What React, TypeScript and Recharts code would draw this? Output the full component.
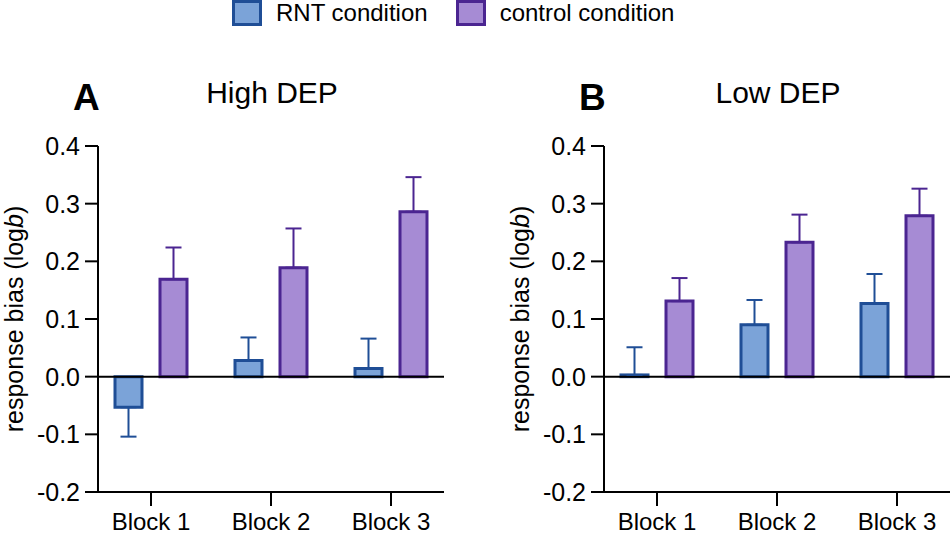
import React from "react";
import {
  BarChart,
  Bar,
  XAxis,
  YAxis,
  ErrorBar,
  ReferenceLine,
} from "recharts";

const blocks = ["Block 1", "Block 2", "Block 3"];
const yTicks = [-0.2, -0.1, 0, 0.1, 0.2, 0.3, 0.4];

// High DEP (panel A)
const highRnt = [-0.053, 0.028, 0.014];
const highRntSem = [0.051, 0.04, 0.052];
const highCtrl = [0.169, 0.189, 0.286];
const highCtrlSem = [0.055, 0.068, 0.06];

// Low DEP (panel B)
const lowRnt = [0.003, 0.09, 0.127];
const lowRntSem = [0.048, 0.043, 0.051];
const lowCtrl = [0.131, 0.233, 0.279];
const lowCtrlSem = [0.04, 0.048, 0.047];

const RNT_FILL = "#7ba3d8";
const RNT_STROKE = "#1f4e96";
const CTRL_FILL = "#a68bd4";
const CTRL_STROKE = "#4b2591";
const FONT = "'Liberation Sans', Arial, sans-serif";

if (typeof document !== "undefined") document.body.style.margin = "0";

// one-sided error bars, pointing away from zero
const oneSided = (v: number, e: number) => (v < 0 ? [e, 0] : [0, e]);

const buildRows = (rnt: number[], rntSem: number[], ctrl: number[], ctrlSem: number[]) =>
  blocks.map((block, i) => ({
    block,
    rnt: rnt[i],
    rntErr: oneSided(rnt[i], rntSem[i]),
    ctrl: ctrl[i],
    ctrlErr: oneSided(ctrl[i], ctrlSem[i]),
  }));

const Panel = ({
  letter,
  title,
  rows,
  left,
}: {
  letter: string;
  title: string;
  rows: ReturnType<typeof buildRows>;
  left: number;
}) => {
  const tickStyle = { fill: "#000", fontSize: 25, fontFamily: FONT };
  return (
    <div style={{ position: "absolute", left, top: 0, width: 475, height: 536 }}>
      <BarChart
        width={475}
        height={536}
        data={rows}
        margin={{ top: 146, right: 31, bottom: 0, left: 38 }}
        barSize={27}
        barGap={18}
      >
        <XAxis
          dataKey="block"
          height={44}
          padding={{ left: -7, right: -7 }}
          stroke="#000"
          strokeWidth={2}
          tickSize={14}
          tickMargin={7}
          tick={{ ...tickStyle, fontSize: 24 }}
          tickLine={{ stroke: "#000", strokeWidth: 2 }}
        />
        <YAxis
          width={60}
          domain={[-0.2, 0.4]}
          ticks={yTicks}
          allowDataOverflow
          stroke="#000"
          strokeWidth={2}
          tickSize={13}
          tickMargin={5}
          tick={tickStyle}
          tickLine={{ stroke: "#000", strokeWidth: 2 }}
          tickFormatter={(v: number) => v.toFixed(1)}
        />
        <ReferenceLine y={0} stroke="#000" strokeWidth={2} />
        <Bar
          dataKey="rnt"
          fill={RNT_FILL}
          stroke={RNT_STROKE}
          strokeWidth={3}
          isAnimationActive={false}
        >
          <ErrorBar dataKey="rntErr" width={8} stroke={RNT_STROKE} strokeWidth={2} />
        </Bar>
        <Bar
          dataKey="ctrl"
          fill={CTRL_FILL}
          stroke={CTRL_STROKE}
          strokeWidth={3}
          isAnimationActive={false}
        >
          <ErrorBar dataKey="ctrlErr" width={8} stroke={CTRL_STROKE} strokeWidth={2} />
        </Bar>
      </BarChart>
      <svg
        width={475}
        height={536}
        style={{ position: "absolute", left: 0, top: 0, pointerEvents: "none" }}
      >
        <text x={73} y={110} fontSize={37} fontWeight="bold" fontFamily={FONT}>
          {letter}
        </text>
        <text x={272} y={103} fontSize={30} textAnchor="middle" fontFamily={FONT}>
          {title}
        </text>
        <text
          x={0}
          y={0}
          transform="translate(23,319) rotate(-90)"
          fontSize={25}
          textAnchor="middle"
          fontFamily={FONT}
        >
          response bias (log<tspan fontStyle="italic">b</tspan>)
        </text>
      </svg>
    </div>
  );
};

const LegendItem = ({ label, fill, stroke }: { label: string; fill: string; stroke: string }) => (
  <div style={{ display: "flex", alignItems: "center", marginRight: 28 }}>
    <div
      style={{
        width: 24,
        height: 20,
        background: fill,
        border: `3px solid ${stroke}`,
        marginRight: 14,
      }}
    />
    <span style={{ fontSize: 24, fontFamily: FONT, color: "#000" }}>{label}</span>
  </div>
);

export default function App() {
  const highRows = buildRows(highRnt, highRntSem, highCtrl, highCtrlSem);
  const lowRows = buildRows(lowRnt, lowRntSem, lowCtrl, lowCtrlSem);
  return (
    <div
      style={{
        position: "relative",
        width: 950,
        height: 536,
        background: "#fff",
        overflow: "hidden",
      }}
    >
      <Panel letter="A" title="High DEP" rows={highRows} left={0} />
      <Panel letter="B" title="Low DEP" rows={lowRows} left={506} />
      <div
        style={{
          position: "absolute",
          left: 232,
          top: -1,
          display: "flex",
          alignItems: "center",
          height: 28,
        }}
      >
        <LegendItem label="RNT condition" fill={RNT_FILL} stroke={RNT_STROKE} />
        <LegendItem label="control condition" fill={CTRL_FILL} stroke={CTRL_STROKE} />
      </div>
    </div>
  );
}
